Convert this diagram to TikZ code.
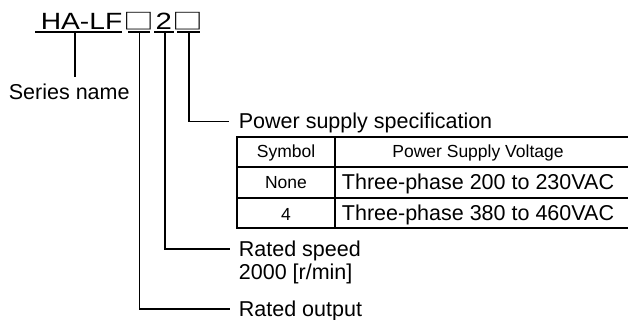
\documentclass[tikz,border=0pt]{standalone}
\usepackage{fontspec}
\setmainfont{Liberation Sans}
\newfontfamily\cjkbox{Noto Sans CJK JP}
\begin{document}
\begin{tikzpicture}[x=1pt,y=-1pt,line width=1.8pt,
  big/.style={inner sep=0pt,anchor=base west,font=\fontsize{21.5}{24}\selectfont},
  ttl/.style={inner sep=0pt,anchor=base,font=\fontsize{23.5}{26}\selectfont},
  boxch/.style={inner sep=0pt,anchor=base,font=\cjkbox\fontsize{22}{24}\selectfont},
  small/.style={inner sep=0pt,anchor=base,font=\fontsize{17.5}{20}\selectfont},
  cell/.style={inner sep=0pt,anchor=base,font=\fontsize{21.5}{24}\selectfont},
  tline/.style={line width=1.6pt}]
\useasboundingbox (0,0) rectangle (628,320);
% title
\node[ttl] (hlf) at (81.5,29.3) {\scalebox{1.2}[1]{HA-LF}};
\node[boxch] (b1) at (138.8,29.8) {\scalebox{1.4}[1]{□}};
\node[ttl] (two) at (163.8,29.3) {\scalebox{1.25}[1]{2}};
\node[boxch] (b3) at (187.8,29.8) {\scalebox{1.4}[1]{□}};
\draw (35,32.3) -- (122,32.3);
\draw (128,32.3) -- (150,32.3);
\draw (154,32.3) -- (174,32.3);
\draw (177,32.3) -- (199.5,32.3);
% series name
\coordinate (u0) at (75,32.3);
\coordinate (e0) at (75,77);
\draw (u0) -- (e0);
\node[big] (series) at (8,100) {Series name};
% power supply
\coordinate (u3) at (189,32.3);
\coordinate (e3) at (229,121.5);
\draw (u3) |- (e3);
\node[big] (pss) at (238,128.5) {Power supply specification};
% rated speed
\coordinate (u2) at (165,32.3);
\coordinate (e2) at (230,249);
\draw (u2) |- (e2);
\node[big] (rs) at (238,256) {Rated speed};
\node[big] (rsv) at (238,279) {2000 [r/min]};
% rated output
\coordinate (u1) at (139.5,32.3);
\coordinate (e1) at (230,309);
\draw (u1) |- (e1);
\node[big] (ro) at (238,316) {Rated output};
% table
\coordinate (tl) at (237,137);
\coordinate (tr) at (630,137);
\coordinate (br) at (630,228);
\coordinate (bl) at (237,228);
\draw[tline] (tr) -- (tl) -- (bl) -- (br);
\draw[tline] (237,167) -- (630,167);
\draw[tline] (237,198) -- (630,198);
\draw[tline] (335,137) -- (335,228);
\node[small] (hs) at (286,158) {Symbol};
\node[small] (hv) at (478,158) {Power Supply Voltage};
\node[small] (r1s) at (286,189) {None};
\node[cell] (r1v) at (478,190) {Three-phase 200 to 230VAC};
\node[small] (r2s) at (286,220) {4};
\node[cell] (r2v) at (478,221) {Three-phase 380 to 460VAC};
\end{tikzpicture}
\end{document}
